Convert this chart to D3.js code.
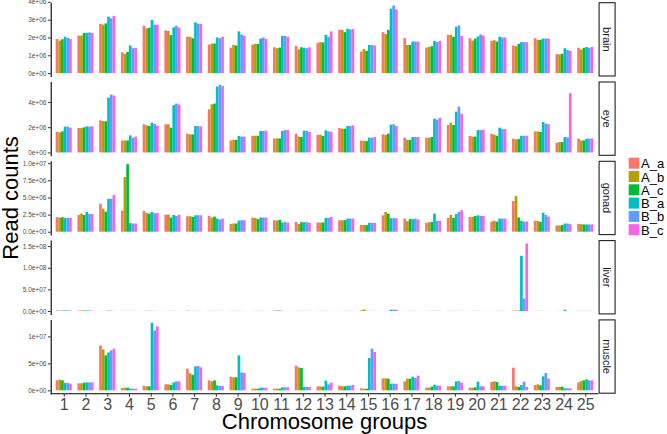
<!DOCTYPE html>
<html>
<head>
<meta charset="utf-8">
<script src="https://cdn.jsdelivr.net/npm/d3@7"></script>
<style>
  body { margin: 0; background: #fff; }
  svg { font-family: "Liberation Sans", Arial, sans-serif; }
</style>
</head>
<body>
<div id="chart"></div>
<script>
// read counts, in millions, one row per chromosome group, columns = series
var groups = ["1","2","3","4","5","6","7","8","9","10","11","12","13","14","15","16","17","18","19","20","21","22","23","24","25"];
var series = ["A_a","A_b","A_c","B_a","B_b","B_c"];
var colors = ["#F8766D","#B79F00","#00BA38","#00BFC4","#619CFF","#F564E3"];
var tissues = ["brain","eye","gonad","liver","muscle"];
var UNIT = 1e6;

var brain = [
  [1.91,1.83,1.90,2.04,1.98,1.92],
  [2.11,2.11,2.26,2.26,2.28,2.26],
  [2.77,2.72,2.79,3.17,3.08,3.21],
  [1.17,1.09,1.19,1.55,1.40,1.42],
  [2.66,2.51,2.55,2.98,2.72,2.72],
  [2.40,2.36,2.13,2.57,2.66,2.55],
  [2.04,2.04,1.96,2.85,2.77,2.77],
  [1.60,1.66,1.66,2.00,1.96,2.04],
  [1.43,1.58,1.55,2.34,2.17,2.09],
  [1.60,1.64,1.64,1.94,2.00,1.92],
  [1.45,1.40,1.43,2.09,2.09,2.04],
  [1.53,1.34,1.45,1.42,1.40,1.45],
  [1.70,1.74,1.72,2.15,2.04,2.34],
  [2.43,2.43,2.30,2.49,2.45,2.47],
  [1.21,1.36,1.25,1.58,1.58,1.55],
  [2.30,2.19,2.43,3.62,3.79,3.58],
  [1.96,1.58,1.58,1.77,1.77,1.77],
  [1.43,1.47,1.51,1.81,1.74,1.81],
  [2.15,2.15,2.04,2.60,2.68,2.09],
  [1.96,1.83,1.94,2.06,2.17,2.11],
  [1.81,1.85,1.77,2.04,2.00,2.00],
  [1.55,1.51,1.64,1.74,1.74,1.74],
  [1.96,1.87,1.87,1.94,1.94,1.94],
  [1.06,1.06,1.08,1.40,1.30,1.25],
  [1.42,1.32,1.42,1.47,1.42,1.47]
];

var eye = [
  [1.64,1.59,1.67,2.04,2.04,1.96],
  [1.93,1.93,1.99,2.07,2.04,2.07],
  [2.54,2.49,2.46,4.34,4.58,4.50],
  [0.95,0.95,0.95,1.35,1.17,1.25],
  [2.23,2.15,2.09,2.36,2.25,2.12],
  [2.23,2.23,1.96,3.74,3.87,3.79],
  [1.48,1.43,1.43,2.09,2.09,2.07],
  [3.42,3.81,3.87,5.22,5.35,5.27],
  [0.95,1.00,1.00,1.30,1.25,1.25],
  [1.32,1.32,1.32,1.70,1.70,1.72],
  [1.11,1.11,1.11,1.70,1.77,1.77],
  [1.48,1.25,1.22,1.72,1.72,1.62],
  [1.40,1.40,1.30,1.75,1.67,1.64],
  [1.93,1.88,1.88,2.09,2.09,2.15],
  [0.93,0.93,0.90,1.17,1.17,1.22],
  [1.43,1.38,1.48,2.20,2.23,2.09],
  [1.17,1.00,1.00,1.22,1.22,1.22],
  [1.17,1.17,1.22,2.68,2.60,2.75],
  [2.17,2.36,2.17,3.23,3.63,3.07],
  [1.30,1.25,1.25,1.77,1.77,1.80],
  [1.48,1.40,1.32,1.96,1.85,1.85],
  [1.09,1.03,1.06,1.32,1.32,1.32],
  [1.67,1.67,1.62,2.41,2.28,2.23],
  [0.77,0.82,0.82,1.22,1.19,4.69],
  [1.09,0.95,0.95,1.09,1.09,1.11]
];

var gonad = [
  [2.12,2.07,2.12,2.02,2.02,2.02],
  [2.45,2.64,2.45,2.88,2.60,2.60],
  [4.09,3.37,2.93,4.81,4.81,5.34],
  [3.08,7.98,9.86,1.25,1.20,1.20],
  [3.03,2.74,2.64,2.88,2.69,2.74],
  [2.50,2.50,2.07,2.45,2.31,2.45],
  [2.26,2.26,2.16,2.40,2.40,2.40],
  [2.31,2.07,2.21,1.92,1.78,1.92],
  [1.15,1.20,1.20,1.63,1.68,1.68],
  [2.07,2.02,1.83,2.07,2.07,2.07],
  [1.68,1.63,1.73,1.35,1.44,1.35],
  [1.44,1.15,1.39,1.39,1.39,1.30],
  [1.35,1.35,1.35,2.02,2.02,2.16],
  [1.68,1.68,1.68,1.92,1.92,1.92],
  [1.00,1.00,0.96,1.30,1.30,1.30],
  [2.40,2.88,2.64,1.97,1.97,1.97],
  [1.92,1.54,1.87,1.83,1.92,1.78],
  [1.30,1.39,1.44,2.64,1.59,1.59],
  [2.02,2.45,2.02,2.60,2.88,3.13],
  [2.16,2.16,2.31,2.40,2.31,2.31],
  [1.49,1.59,1.49,1.92,1.92,1.92],
  [4.47,5.19,2.07,1.59,1.49,1.49],
  [1.59,1.59,1.44,2.79,2.45,2.21],
  [0.91,0.91,0.96,1.20,1.20,1.10],
  [1.15,1.10,1.06,1.06,1.06,1.06]
];

var liver = [
  [1.2,1.0,1.0,1.5,1.2,1.2],
  [1.0,1.0,1.2,1.2,1.2,1.0],
  [0.3,0.3,0.3,1.0,0.8,0.5],
  [0.3,0.3,0.3,0.3,0.3,0.3],
  [0.5,0.5,0.5,0.5,0.3,0.3],
  [0.3,0.3,0.3,0.3,0.3,0.3],
  [1.0,0.3,0.3,0.3,0.3,0.3],
  [0.3,0.3,0.3,0.3,0.3,0.3],
  [0.3,0.3,0.3,0.3,0.3,0.3],
  [0.3,0.3,0.3,0.3,0.3,0.3],
  [1.2,1.2,1.2,0.3,0.3,0.3],
  [0.3,0.3,0.3,0.3,0.3,0.3],
  [0.3,0.3,0.3,0.3,0.3,0.3],
  [0.3,0.3,0.3,0.3,0.3,0.3],
  [1.5,3.5,0.5,0.3,0.3,0.3],
  [0.3,0.3,0.3,3.0,3.0,3.0],
  [0.3,0.3,0.3,0.3,0.3,0.3],
  [0.3,0.3,0.3,0.5,0.5,0.5],
  [0.3,0.3,0.3,0.3,0.3,0.3],
  [0.3,0.3,0.3,0.3,0.3,0.3],
  [0.3,0.3,0.3,0.3,0.3,0.3],
  [1.0,1.0,1.0,127.6,28.6,156.0],
  [0.3,0.3,0.3,0.3,0.3,0.3],
  [0.3,0.3,0.3,3.0,0.3,0.3],
  [0.3,0.3,0.3,0.3,0.3,0.3]
];

var muscle = [
  [1.85,1.98,1.85,1.36,1.36,1.23],
  [1.30,1.30,1.42,1.48,1.48,1.48],
  [8.33,7.59,6.48,7.04,7.41,7.72],
  [0.43,0.49,0.49,0.31,0.31,0.31],
  [0.86,0.74,0.74,12.53,11.10,11.85],
  [1.11,1.11,0.99,1.48,1.67,1.67],
  [4.01,3.15,2.84,4.44,4.51,4.26],
  [1.85,1.67,1.85,0.93,0.80,0.80],
  [2.53,2.41,2.41,6.48,3.33,3.21],
  [0.31,0.31,0.31,0.49,0.49,0.49],
  [0.31,0.31,0.31,0.56,0.56,0.56],
  [4.57,4.26,4.14,0.62,0.62,0.62],
  [0.74,0.74,0.68,1.79,1.11,1.42],
  [0.86,0.74,0.74,0.86,0.86,0.99],
  [0.37,0.31,0.31,5.99,7.72,7.10],
  [2.22,2.22,2.16,1.23,1.23,1.23],
  [1.67,2.16,2.16,2.53,2.28,2.72],
  [0.49,0.49,0.68,1.05,0.86,0.86],
  [0.74,0.74,0.74,1.67,1.73,1.42],
  [0.49,0.49,0.56,1.60,0.74,0.74],
  [1.54,1.67,1.54,0.86,0.86,0.86],
  [4.20,0.74,0.62,0.99,1.60,0.62],
  [0.99,1.11,0.93,2.59,3.21,2.16],
  [0.62,0.62,0.68,0.37,0.37,0.37],
  [1.48,1.73,1.85,2.04,1.85,1.85]
];

var brainTicks  = ["0e+00","1e+06","2e+06","3e+06","4e+06"];
var eyeTicks    = ["0e+00","2e+06","4e+06"];
var gonadTicks  = ["0.0e+00","2.5e+06","5.0e+06","7.5e+06","1.0e+07"];
var liverTicks  = ["0.0e+00","5.0e+07","1.0e+08","1.5e+08"];
var muscleTicks = ["0e+00","5e+06","1e+07"];

var facetData = [brain, eye, gonad, liver, muscle];
var facetTicks = [brainTicks, eyeTicks, gonadTicks, liverTicks, muscleTicks];

var width = 667, height = 434;
var left = 50.7, right = 598.3;
var top0 = 2.2, panelH = 74.3, gap = 5;
var stripW = 17;

var svg = d3.select("#chart").append("svg")
  .attr("width", width)
  .attr("height", height);

var x0 = d3.scalePoint()
  .domain(groups)
  .range([left, right])
  .padding(0.6);
var barW = x0.step() * 0.74;
var x1 = d3.scaleBand()
  .domain(series)
  .range([-barW / 2, barW / 2]);
var col = d3.scaleOrdinal().domain(series).range(colors);

facetData.forEach(function(rows, k) {
  var pTop = top0 + k * (panelH + gap);
  var pBot = pTop + panelH;
  var maxV = d3.max(rows, r => d3.max(r)) * UNIT;
  var y = d3.scaleLinear()
    .domain([-0.05 * maxV, 1.05 * maxV])
    .range([pBot, pTop]);

  var cells = [];
  rows.forEach(function(r, i) {
    r.forEach(function(v, j) {
      cells.push({g: groups[i], s: series[j], v: v * UNIT});
    });
  });

  var g = svg.append("g");
  g.selectAll("rect")
    .data(cells)
    .enter()
    .append("rect")
    .attr("x", d => x0(d.g) + x1(d.s))
    .attr("width", x1.bandwidth())
    .attr("y", d => y(d.v))
    .attr("height", d => y(0) - y(d.v))
    .attr("fill", d => col(d.s));

  var ticks = facetTicks[k];
  var ax = svg.append("g")
    .attr("transform", `translate(${left}, 0)`)
    .call(d3.axisLeft(y)
      .tickValues(ticks.map(Number))
      .tickFormat((d, i) => ticks[i])
      .tickSize(2.8)
      .tickSizeOuter(0)
      .tickPadding(1.5));
  ax.select(".domain").attr("stroke", "#000").attr("stroke-width", 1.1);
  ax.selectAll(".tick line").attr("stroke", "#333");
  ax.selectAll(".tick text")
    .attr("fill", "#4d4d4d")
    .style("font-size", "6.5px")
    .style("font-family", "Liberation Sans, Arial, sans-serif");

  // strip on the right
  svg.append("rect")
    .attr("x", right + 0.8)
    .attr("y", pTop + 0.5)
    .attr("width", stripW - 1)
    .attr("height", panelH - 1)
    .attr("fill", "#fff")
    .attr("stroke", "#222")
    .attr("stroke-width", 1.1);
  svg.append("text")
    .attr("transform", `translate(${right + 0.3 + stripW / 2}, ${(pTop + pBot) / 2}) rotate(90)`)
    .attr("text-anchor", "middle")
    .attr("dy", "0.35em")
    .style("font-size", "11px")
    .attr("fill", "#1a1a1a")
    .text(tissues[k]);

  if (k === facetData.length - 1) {
    var xa = svg.append("g")
      .attr("transform", `translate(0, ${pBot})`)
      .call(d3.axisBottom(x0).tickSize(3).tickSizeOuter(0).tickPadding(1.5));
    xa.select(".domain")
      .attr("d", `M${left},0H${right}`)
      .attr("stroke", "#000")
      .attr("stroke-width", 1.1);
    xa.selectAll(".tick line").attr("stroke", "#333");
    xa.selectAll(".tick text")
      .attr("fill", "#4d4d4d")
      .style("font-size", "16px")
      .style("font-family", "Liberation Sans, Arial, sans-serif");
  }
});

// axis titles
svg.append("text")
  .attr("x", (left + right) / 2)
  .attr("y", 429)
  .attr("text-anchor", "middle")
  .style("font-size", "22px")
  .text("Chromosome groups");
svg.append("text")
  .attr("transform", `translate(18, ${top0 + (5 * panelH + 4 * gap) / 2}) rotate(-90)`)
  .attr("text-anchor", "middle")
  .style("font-size", "22px")
  .text("Read counts");

// legend
var leg = svg.append("g").attr("transform", "translate(628.7, 157.7)");
series.forEach(function(s, i) {
  leg.append("rect")
    .attr("x", 0)
    .attr("y", i * 13.3)
    .attr("width", 10.6)
    .attr("height", 11)
    .attr("fill", colors[i]);
  leg.append("text")
    .attr("x", 12.3)
    .attr("y", i * 13.3 + 10.6)
    .style("font-size", "13px")
    .text(s);
});
</script>
</body>
</html>
